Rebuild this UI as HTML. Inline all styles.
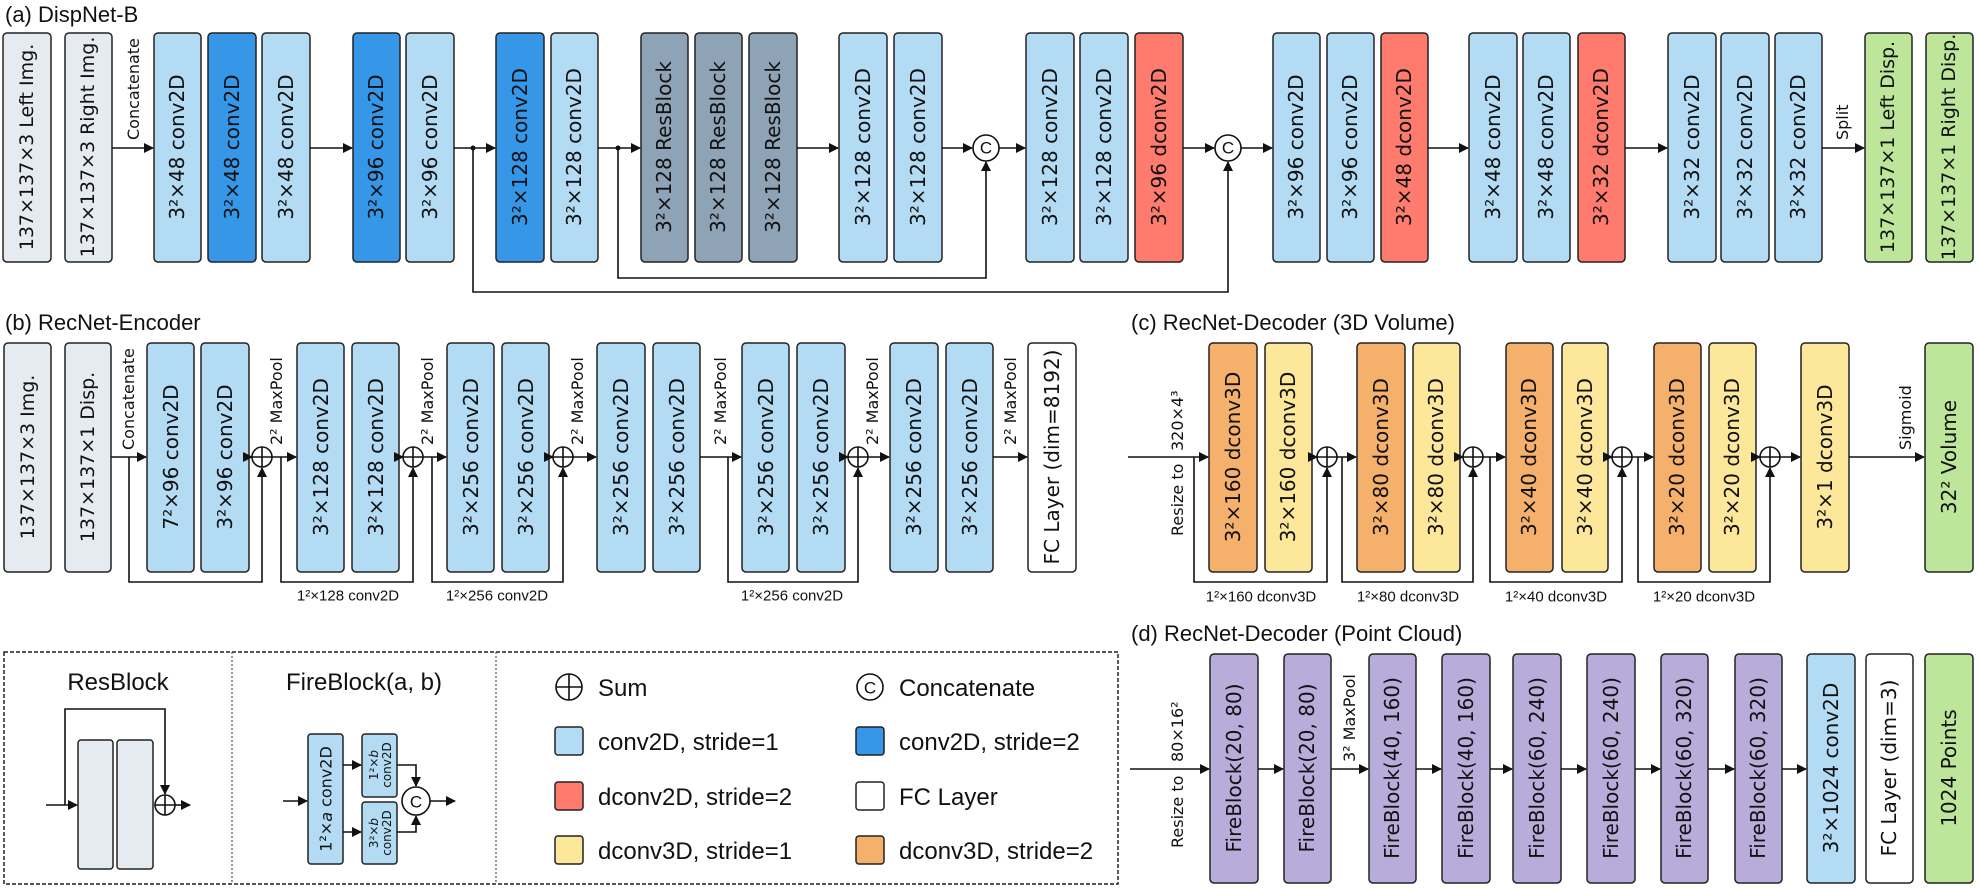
<!DOCTYPE html>
<html><head><meta charset="utf-8"><style>
html,body{margin:0;padding:0;background:#fff;}
svg{display:block;}
.b{stroke:#222;stroke-width:1.5;}
.t{font-family:"DejaVu Sans","Liberation Sans",sans-serif;font-size:20px;fill:#111;}
.t2{font-size:19px;}
.s{font-family:"DejaVu Sans","Liberation Sans",sans-serif;font-size:16px;fill:#111;}
.ti{font-family:"Liberation Sans Narrow","Liberation Sans",sans-serif;font-size:22px;fill:#111;}
.lb{font-family:"Liberation Sans Narrow","Liberation Sans",sans-serif;font-size:15px;fill:#111;}
.lg{font-family:"Liberation Sans Narrow","Liberation Sans",sans-serif;font-size:24px;fill:#111;}
.ln{stroke:#111;stroke-width:1.6;fill:none;}
</style></head><body>
<svg width="1979" height="889" viewBox="0 0 1979 889" xmlns="http://www.w3.org/2000/svg">
<defs>
<marker id="ar" markerWidth="10" markerHeight="10" refX="9" refY="5" orient="auto" markerUnits="userSpaceOnUse">
<path d="M0,0 L10,5 L0,10 z" fill="#111"/></marker>
</defs>

<!-- ============ (a) ============ -->
<text class="ti" x="5" y="22">(a) DispNet-B</text>
<g class="b">
<rect x="3" y="33" width="48" height="229" rx="4" fill="#e6ebf2"/>
<rect x="65" y="33" width="47" height="229" rx="4" fill="#e6ebf2"/>
<rect x="154" y="33" width="47" height="229" rx="4" fill="#b3dcf4"/>
<rect x="208" y="33" width="48" height="229" rx="4" fill="#3697e8"/>
<rect x="262" y="33" width="48" height="229" rx="4" fill="#b3dcf4"/>
<rect x="353" y="33" width="47" height="229" rx="4" fill="#3697e8"/>
<rect x="406" y="33" width="48" height="229" rx="4" fill="#b3dcf4"/>
<rect x="496" y="33" width="48" height="229" rx="4" fill="#3697e8"/>
<rect x="551" y="33" width="47" height="229" rx="4" fill="#b3dcf4"/>
<rect x="641" y="33" width="47" height="229" rx="4" fill="#8fa3b6"/>
<rect x="695" y="33" width="47" height="229" rx="4" fill="#8fa3b6"/>
<rect x="749" y="33" width="48" height="229" rx="4" fill="#8fa3b6"/>
<rect x="839" y="33" width="48" height="229" rx="4" fill="#b3dcf4"/>
<rect x="894" y="33" width="48" height="229" rx="4" fill="#b3dcf4"/>
<rect x="1026" y="33" width="48" height="229" rx="4" fill="#b3dcf4"/>
<rect x="1080" y="33" width="48" height="229" rx="4" fill="#b3dcf4"/>
<rect x="1135" y="33" width="48" height="229" rx="4" fill="#fe7b6d"/>
<rect x="1273" y="33" width="47" height="229" rx="4" fill="#b3dcf4"/>
<rect x="1327" y="33" width="47" height="229" rx="4" fill="#b3dcf4"/>
<rect x="1381" y="33" width="47" height="229" rx="4" fill="#fe7b6d"/>
<rect x="1469" y="33" width="48" height="229" rx="4" fill="#b3dcf4"/>
<rect x="1523" y="33" width="47" height="229" rx="4" fill="#b3dcf4"/>
<rect x="1578" y="33" width="47" height="229" rx="4" fill="#fe7b6d"/>
<rect x="1668" y="33" width="48" height="229" rx="4" fill="#b3dcf4"/>
<rect x="1721" y="33" width="48" height="229" rx="4" fill="#b3dcf4"/>
<rect x="1775" y="33" width="47" height="229" rx="4" fill="#b3dcf4"/>
<rect x="1865" y="33" width="47" height="229" rx="4" fill="#bde69a"/>
<rect x="1926" y="33" width="47" height="229" rx="4" fill="#bde69a"/>
</g>
<g class="t" text-anchor="middle" dominant-baseline="central">
<text class="t2" transform="translate(27,147) rotate(-90)">137×137×3 Left Img.</text>
<text class="t2" transform="translate(88,147) rotate(-90)">137×137×3 Right Img.</text>
<text transform="translate(177,147) rotate(-90)">3²×48 conv2D</text>
<text transform="translate(232,147) rotate(-90)">3²×48 conv2D</text>
<text transform="translate(286,147) rotate(-90)">3²×48 conv2D</text>
<text transform="translate(376,147) rotate(-90)">3²×96 conv2D</text>
<text transform="translate(430,147) rotate(-90)">3²×96 conv2D</text>
<text transform="translate(520,147) rotate(-90)">3²×128 conv2D</text>
<text transform="translate(574,147) rotate(-90)">3²×128 conv2D</text>
<text transform="translate(664,147) rotate(-90)">3²×128 ResBlock</text>
<text transform="translate(718,147) rotate(-90)">3²×128 ResBlock</text>
<text transform="translate(773,147) rotate(-90)">3²×128 ResBlock</text>
<text transform="translate(863,147) rotate(-90)">3²×128 conv2D</text>
<text transform="translate(918,147) rotate(-90)">3²×128 conv2D</text>
<text transform="translate(1050,147) rotate(-90)">3²×128 conv2D</text>
<text transform="translate(1104,147) rotate(-90)">3²×128 conv2D</text>
<text transform="translate(1159,147) rotate(-90)">3²×96 dconv2D</text>
<text transform="translate(1296,147) rotate(-90)">3²×96 conv2D</text>
<text transform="translate(1350,147) rotate(-90)">3²×96 conv2D</text>
<text transform="translate(1404,147) rotate(-90)">3²×48 dconv2D</text>
<text transform="translate(1493,147) rotate(-90)">3²×48 conv2D</text>
<text transform="translate(1546,147) rotate(-90)">3²×48 conv2D</text>
<text transform="translate(1601,147) rotate(-90)">3²×32 dconv2D</text>
<text transform="translate(1692,147) rotate(-90)">3²×32 conv2D</text>
<text transform="translate(1745,147) rotate(-90)">3²×32 conv2D</text>
<text transform="translate(1798,147) rotate(-90)">3²×32 conv2D</text>
<text class="t2" transform="translate(1888,147) rotate(-90)">137×137×1 Left Disp.</text>
<text class="t2" transform="translate(1949,147) rotate(-90)">137×137×1 Right Disp.</text>
</g>
<g class="ln" marker-end="url(#ar)">
<path d="M112 148 H153"/><path d="M310 148 H352"/><path d="M454 148 H495"/><path d="M598 148 H640"/>
<path d="M797 148 H838"/><path d="M942 148 H972"/><path d="M999 148 H1025"/><path d="M1183 148 H1214"/>
<path d="M1241 148 H1272"/><path d="M1428 148 H1468"/><path d="M1625 148 H1667"/><path d="M1822 148 H1864"/>
<path d="M618 148 V278 H986 V162"/><path d="M473 148 V292 H1228 V162"/>
</g>
<circle cx="473" cy="148" r="2.5" fill="#111"/><circle cx="618" cy="148" r="2.5" fill="#111"/>
<g class="ln" fill="#fff"><circle cx="986" cy="148" r="13" fill="#fff"/><circle cx="1228" cy="148" r="13" fill="#fff"/></g>
<g class="lb" text-anchor="middle" dominant-baseline="central" style="font-size:17px">
<text x="986" y="148">C</text><text x="1228" y="148">C</text></g>
<g class="s">
<text transform="translate(139,140) rotate(-90)">Concatenate</text>
<text transform="translate(1848,140) rotate(-90)">Split</text>
</g>

<!-- ============ (b) ============ -->
<text class="ti" x="5" y="330">(b) RecNet-Encoder</text>
<g class="b">
<rect x="4" y="343" width="47" height="229" rx="4" fill="#e6ebf2"/>
<rect x="65" y="343" width="46" height="229" rx="4" fill="#e6ebf2"/>
<rect x="147" y="343" width="47" height="229" rx="4" fill="#b3dcf4"/>
<rect x="201" y="343" width="48" height="229" rx="4" fill="#b3dcf4"/>
<rect x="297" y="343" width="47" height="229" rx="4" fill="#b3dcf4"/>
<rect x="352" y="343" width="47" height="229" rx="4" fill="#b3dcf4"/>
<rect x="447" y="343" width="47" height="229" rx="4" fill="#b3dcf4"/>
<rect x="502" y="343" width="47" height="229" rx="4" fill="#b3dcf4"/>
<rect x="597" y="343" width="48" height="229" rx="4" fill="#b3dcf4"/>
<rect x="653" y="343" width="47" height="229" rx="4" fill="#b3dcf4"/>
<rect x="742" y="343" width="47" height="229" rx="4" fill="#b3dcf4"/>
<rect x="797" y="343" width="48" height="229" rx="4" fill="#b3dcf4"/>
<rect x="890" y="343" width="48" height="229" rx="4" fill="#b3dcf4"/>
<rect x="946" y="343" width="47" height="229" rx="4" fill="#b3dcf4"/>
<rect x="1028" y="343" width="48" height="229" rx="4" fill="#ffffff"/>
</g>
<g class="t" text-anchor="middle" dominant-baseline="central">
<text class="t2" transform="translate(28,457) rotate(-90)">137×137×3 Img.</text>
<text class="t2" transform="translate(88,457) rotate(-90)">137×137×1 Disp.</text>
<text transform="translate(171,457) rotate(-90)">7²×96 conv2D</text>
<text transform="translate(225,457) rotate(-90)">3²×96 conv2D</text>
<text transform="translate(321,457) rotate(-90)">3²×128 conv2D</text>
<text transform="translate(376,457) rotate(-90)">3²×128 conv2D</text>
<text transform="translate(471,457) rotate(-90)">3²×256 conv2D</text>
<text transform="translate(526,457) rotate(-90)">3²×256 conv2D</text>
<text transform="translate(621,457) rotate(-90)">3²×256 conv2D</text>
<text transform="translate(677,457) rotate(-90)">3²×256 conv2D</text>
<text transform="translate(766,457) rotate(-90)">3²×256 conv2D</text>
<text transform="translate(821,457) rotate(-90)">3²×256 conv2D</text>
<text transform="translate(914,457) rotate(-90)">3²×256 conv2D</text>
<text transform="translate(970,457) rotate(-90)">3²×256 conv2D</text>
<text transform="translate(1052,457) rotate(-90)">FC Layer (dim=8192)</text>
</g>
<g class="ln" marker-end="url(#ar)">
<path d="M111 457 H146"/><path d="M249 457 H252"/><path d="M272 457 H296"/>
<path d="M399 457 H403"/><path d="M423 457 H446"/>
<path d="M549 457 H553"/><path d="M573 457 H596"/>
<path d="M700 457 H741"/>
<path d="M845 457 H848"/><path d="M868 457 H889"/>
<path d="M993 457 H1027"/>
<path d="M129 457 V582 H262 V468"/><path d="M281 457 V582 H413 V468"/>
<path d="M432 457 V582 H563 V468"/><path d="M728 457 V582 H858 V468"/>
</g>
<g class="ln"><circle cx="262" cy="457" r="10" fill="#fff"/><path d="M252 457 H272 M262 447 V467"/>
<circle cx="413" cy="457" r="10" fill="#fff"/><path d="M403 457 H423 M413 447 V467"/>
<circle cx="563" cy="457" r="10" fill="#fff"/><path d="M553 457 H573 M563 447 V467"/>
<circle cx="858" cy="457" r="10" fill="#fff"/><path d="M848 457 H868 M858 447 V467"/></g>
<g class="s">
<text transform="translate(134,450) rotate(-90)">Concatenate</text>
<text transform="translate(282,445) rotate(-90)">2² MaxPool</text>
<text transform="translate(433,445) rotate(-90)">2² MaxPool</text>
<text transform="translate(583,445) rotate(-90)">2² MaxPool</text>
<text transform="translate(726,445) rotate(-90)">2² MaxPool</text>
<text transform="translate(878,445) rotate(-90)">2² MaxPool</text>
<text transform="translate(1016,445) rotate(-90)">2² MaxPool</text>
</g>
<g class="lb" text-anchor="middle" dominant-baseline="central">
<text x="348" y="596">1²×128 conv2D</text>
<text x="497" y="596">1²×256 conv2D</text>
<text x="792" y="596">1²×256 conv2D</text>
</g>

<!-- ============ (c) ============ -->
<text class="ti" x="1131" y="330">(c) RecNet-Decoder (3D Volume)</text>
<g class="b">
<rect x="1209" y="343" width="48" height="229" rx="4" fill="#f5b16b"/>
<rect x="1265" y="343" width="47" height="229" rx="4" fill="#fde79a"/>
<rect x="1357" y="343" width="48" height="229" rx="4" fill="#f5b16b"/>
<rect x="1413" y="343" width="47" height="229" rx="4" fill="#fde79a"/>
<rect x="1506" y="343" width="47" height="229" rx="4" fill="#f5b16b"/>
<rect x="1562" y="343" width="46" height="229" rx="4" fill="#fde79a"/>
<rect x="1654" y="343" width="47" height="229" rx="4" fill="#f5b16b"/>
<rect x="1709" y="343" width="47" height="229" rx="4" fill="#fde79a"/>
<rect x="1801" y="343" width="48" height="229" rx="4" fill="#fde79a"/>
<rect x="1925" y="343" width="48" height="229" rx="4" fill="#bde69a"/>
</g>
<g class="t" text-anchor="middle" dominant-baseline="central">
<text transform="translate(1233,457) rotate(-90)">3²×160 dconv3D</text>
<text transform="translate(1288,457) rotate(-90)">3²×160 dconv3D</text>
<text transform="translate(1381,457) rotate(-90)">3²×80 dconv3D</text>
<text transform="translate(1436,457) rotate(-90)">3²×80 dconv3D</text>
<text transform="translate(1529,457) rotate(-90)">3²×40 dconv3D</text>
<text transform="translate(1585,457) rotate(-90)">3²×40 dconv3D</text>
<text transform="translate(1677,457) rotate(-90)">3²×20 dconv3D</text>
<text transform="translate(1732,457) rotate(-90)">3²×20 dconv3D</text>
<text transform="translate(1825,457) rotate(-90)">3²×1 dconv3D</text>
<text transform="translate(1949,457) rotate(-90)">32² Volume</text>
</g>
<g class="ln" marker-end="url(#ar)">
<path d="M1128 457 H1208"/><path d="M1312 457 H1317"/><path d="M1337 457 H1356"/>
<path d="M1460 457 H1463"/><path d="M1483 457 H1505"/>
<path d="M1608 457 H1612"/><path d="M1632 457 H1653"/>
<path d="M1756 457 H1760"/><path d="M1780 457 H1800"/>
<path d="M1849 457 H1924"/>
<path d="M1194 457 V582 H1327 V468"/><path d="M1342 457 V582 H1473 V468"/>
<path d="M1490 457 V582 H1622 V468"/><path d="M1638 457 V582 H1770 V468"/>
</g>
<g class="ln"><circle cx="1327" cy="457" r="10" fill="#fff"/><path d="M1317 457 H1337 M1327 447 V467"/>
<circle cx="1473" cy="457" r="10" fill="#fff"/><path d="M1463 457 H1483 M1473 447 V467"/>
<circle cx="1622" cy="457" r="10" fill="#fff"/><path d="M1612 457 H1632 M1622 447 V467"/>
<circle cx="1770" cy="457" r="10" fill="#fff"/><path d="M1760 457 H1780 M1770 447 V467"/></g>
<g class="s">
<text transform="translate(1183,536) rotate(-90)">Resize to</text>
<text transform="translate(1183,451) rotate(-90)">320×4³</text>
<text transform="translate(1911,450) rotate(-90)">Sigmoid</text>
</g>
<g class="lb" text-anchor="middle" dominant-baseline="central">
<text x="1261" y="597">1²×160 dconv3D</text>
<text x="1408" y="597">1²×80 dconv3D</text>
<text x="1556" y="597">1²×40 dconv3D</text>
<text x="1704" y="597">1²×20 dconv3D</text>
</g>

<!-- ============ (d) ============ -->
<text class="ti" x="1131" y="641">(d) RecNet-Decoder (Point Cloud)</text>
<g class="b">
<rect x="1210" y="654" width="48" height="229" rx="4" fill="#b8acdb"/>
<rect x="1284" y="654" width="47" height="229" rx="4" fill="#b8acdb"/>
<rect x="1369" y="654" width="47" height="229" rx="4" fill="#b8acdb"/>
<rect x="1442" y="654" width="48" height="229" rx="4" fill="#b8acdb"/>
<rect x="1513" y="654" width="48" height="229" rx="4" fill="#b8acdb"/>
<rect x="1587" y="654" width="48" height="229" rx="4" fill="#b8acdb"/>
<rect x="1661" y="654" width="47" height="229" rx="4" fill="#b8acdb"/>
<rect x="1735" y="654" width="47" height="229" rx="4" fill="#b8acdb"/>
<rect x="1807" y="654" width="48" height="229" rx="4" fill="#b3dcf4"/>
<rect x="1866" y="654" width="47" height="229" rx="4" fill="#ffffff"/>
<rect x="1925" y="654" width="48" height="229" rx="4" fill="#bde69a"/>
</g>
<g class="t" text-anchor="middle" dominant-baseline="central">
<text transform="translate(1234,768) rotate(-90)">FireBlock(20, 80)</text>
<text transform="translate(1307,768) rotate(-90)">FireBlock(20, 80)</text>
<text transform="translate(1392,768) rotate(-90)">FireBlock(40, 160)</text>
<text transform="translate(1466,768) rotate(-90)">FireBlock(40, 160)</text>
<text transform="translate(1537,768) rotate(-90)">FireBlock(60, 240)</text>
<text transform="translate(1611,768) rotate(-90)">FireBlock(60, 240)</text>
<text transform="translate(1684,768) rotate(-90)">FireBlock(60, 320)</text>
<text transform="translate(1758,768) rotate(-90)">FireBlock(60, 320)</text>
<text transform="translate(1831,768) rotate(-90)">3²×1024 conv2D</text>
<text transform="translate(1889,768) rotate(-90)">FC Layer (dim=3)</text>
<text transform="translate(1949,768) rotate(-90)">1024 Points</text>
</g>
<g class="ln" marker-end="url(#ar)">
<path d="M1130 769 H1209"/><path d="M1258 769 H1283"/><path d="M1331 769 H1368"/>
<path d="M1416 769 H1441"/><path d="M1490 769 H1512"/><path d="M1561 769 H1586"/>
<path d="M1635 769 H1660"/><path d="M1708 769 H1734"/><path d="M1782 769 H1806"/>
</g>
<g class="s">
<text transform="translate(1183,848) rotate(-90)">Resize to</text>
<text transform="translate(1183,762) rotate(-90)">80×16²</text>
<text transform="translate(1355,762) rotate(-90)">3² MaxPool</text>
</g>

<!-- ============ Legend ============ -->
<rect x="4" y="652" width="1114" height="232" fill="none" stroke="#222" stroke-width="1.5" stroke-dasharray="4,2"/>
<path d="M232 652 V884 M496 652 V884" stroke="#333" stroke-width="1" stroke-dasharray="2,2"/>
<text class="lg" x="118" y="690" text-anchor="middle">ResBlock</text>
<text class="lg" x="364" y="690" text-anchor="middle">FireBlock(a, b)</text>
<g class="b"><rect x="78" y="740" width="35" height="129" rx="3" fill="#e6ebf2"/>
<rect x="117" y="740" width="36" height="129" rx="3" fill="#e6ebf2"/></g>
<g class="ln" marker-end="url(#ar)"><path d="M46 805 H77"/><path d="M65 805 V709 H165 V794"/><path d="M175 805 H190"/></g>
<g class="ln"><circle cx="165" cy="805" r="10" fill="#fff"/><path d="M155 805 H175 M165 795 V815"/></g>

<g class="b"><rect x="308" y="734" width="35" height="130" rx="3" fill="#b3dcf4"/>
<rect x="362" y="734" width="35" height="63" rx="3" fill="#b3dcf4"/>
<rect x="362" y="802" width="35" height="62" rx="3" fill="#b3dcf4"/></g>
<g class="s" text-anchor="middle" dominant-baseline="central">
<text transform="translate(326,799) rotate(-90)">1²×<tspan font-style="italic">a</tspan> conv2D</text>
<text transform="translate(374,765) rotate(-90)" style="font-size:12px">1²×<tspan font-style="italic">b</tspan></text>
<text transform="translate(387,765) rotate(-90)" style="font-size:12px">conv2D</text>
<text transform="translate(374,833) rotate(-90)" style="font-size:12px">3²×<tspan font-style="italic">b</tspan></text>
<text transform="translate(387,833) rotate(-90)" style="font-size:12px">conv2D</text>
</g>
<g class="ln" marker-end="url(#ar)"><path d="M283 801 H307"/><path d="M343 765 H361"/><path d="M343 832 H361"/>
<path d="M397 765 H416 V786"/><path d="M397 832 H416 V816"/><path d="M430 801 H455"/></g>
<circle cx="416" cy="801" r="14" fill="#fff" stroke="#111" stroke-width="1.6"/>
<text class="lb" x="416" y="802" text-anchor="middle" dominant-baseline="central" style="font-size:17px">C</text>

<g class="ln"><circle cx="569" cy="687" r="13" fill="#fff"/><path d="M556 687 H582 M569 674 V700"/></g>
<text class="lg" x="598" y="696">Sum</text>
<circle cx="870" cy="687" r="13" fill="#fff" stroke="#111" stroke-width="1.6"/>
<text class="lb" x="870" y="688" text-anchor="middle" dominant-baseline="central" style="font-size:17px">C</text>
<text class="lg" x="899" y="696">Concatenate</text>
<g class="b">
<rect x="555" y="727" width="28" height="28" rx="3" fill="#b3dcf4"/>
<rect x="555" y="782" width="28" height="28" rx="3" fill="#fe7b6d"/>
<rect x="555" y="836" width="28" height="28" rx="3" fill="#fde79a"/>
<rect x="856" y="727" width="28" height="28" rx="3" fill="#3697e8"/>
<rect x="856" y="782" width="28" height="28" rx="3" fill="#ffffff"/>
<rect x="856" y="836" width="28" height="28" rx="3" fill="#f5b16b"/>
</g>
<g class="lg">
<text x="598" y="750">conv2D, stride=1</text>
<text x="598" y="805">dconv2D, stride=2</text>
<text x="598" y="859">dconv3D, stride=1</text>
<text x="899" y="750">conv2D, stride=2</text>
<text x="899" y="805">FC Layer</text>
<text x="899" y="859">dconv3D, stride=2</text>
</g>
</svg>
</body></html>
